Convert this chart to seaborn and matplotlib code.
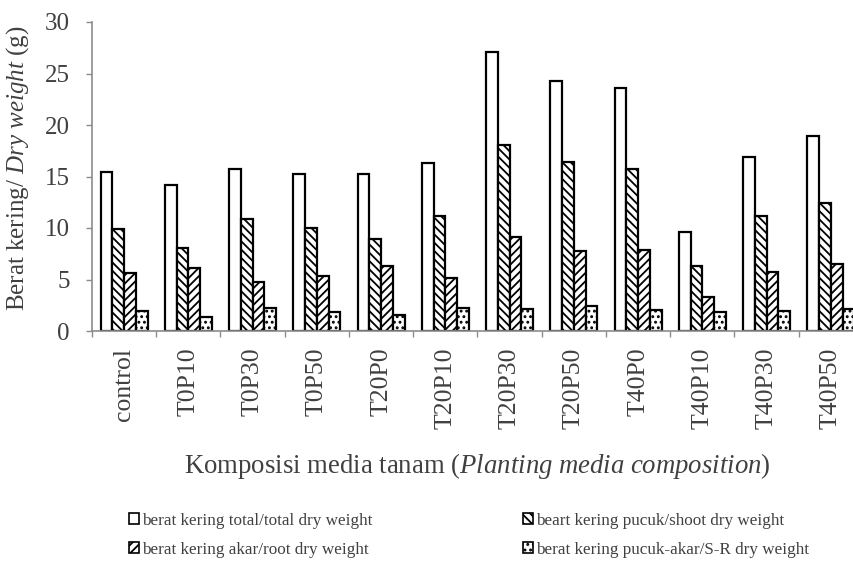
import matplotlib
matplotlib.use("Agg")
import matplotlib.pyplot as plt
import matplotlib.patches as mpatches
import seaborn as sns
import pandas as pd

categories = ["control", "T0P10", "T0P30", "T0P50", "T20P0", "T20P10",
              "T20P30", "T20P50", "T40P0", "T40P10", "T40P30", "T40P50"]
total_dw = [15.4, 14.2, 15.7, 15.2, 15.2, 16.3, 27.1, 24.3, 23.6, 9.6, 16.9, 18.9]
shoot_dw = [9.9, 8.1, 10.9, 10.0, 8.9, 11.2, 18.1, 16.4, 15.7, 6.3, 11.2, 12.4]
root_dw = [5.6, 6.1, 4.8, 5.3, 6.3, 5.1, 9.1, 7.8, 7.9, 3.3, 5.7, 6.5]
sr_dw = [1.9, 1.4, 2.2, 1.8, 1.6, 2.2, 2.1, 2.4, 2.0, 1.8, 1.9, 2.1]
series_names = ["berat kering total/total dry weight",
                "beart kering pucuk/shoot dry weight",
                "berat kering akar/root dry weight",
                "berat kering pucuk-akar/S-R dry weight"]
yticks = [0, 5, 10, 15, 20, 25, 30]

sns.set_style("white")
plt.rcParams["font.family"] = ["Liberation Serif", "DejaVu Serif"]
plt.rcParams["mathtext.fontset"] = "custom"
plt.rcParams["mathtext.rm"] = "Liberation Serif"
plt.rcParams["mathtext.it"] = "Liberation Serif:italic"
plt.rcParams["hatch.linewidth"] = 1.3

rows = []
for name, vals in zip(series_names, [total_dw, shoot_dw, root_dw, sr_dw]):
    for c, v in zip(categories, vals):
        rows.append({"cat": c, "val": v, "series": name})
df = pd.DataFrame(rows)

txt = "#404040"
axc = "#8c8c8c"
fig = plt.figure(figsize=(8.54, 5.86), dpi=100)
ax = fig.add_axes([92 / 854, 1 - 331 / 586, 771 / 854, 309 / 586])

sns.barplot(data=df, x="cat", y="val", hue="series", order=categories,
            hue_order=series_names, palette=["white"] * 4, edgecolor="black",
            linewidth=1.6, width=0.73, gap=0, legend=False, ax=ax, errorbar=None)

hatches = [None, "\\\\\\\\", "////", "..."]
for cont, h in zip(ax.containers, hatches):
    for p in cont:
        p.set_hatch(h)
        p.set_facecolor("white")
        p.set_edgecolor("black")

ax.set_ylim(0, 30)
ax.set_xlim(-0.5, len(categories) - 0.5)
ax.set_yticks(yticks)
ax.set_yticklabels([str(t) for t in yticks], fontsize=18, color=txt)
ax.set_xticks(range(len(categories)))
ax.set_xticklabels(categories, rotation=90, fontsize=18.5, color=txt)
ax.set_xticks([i - 0.5 for i in range(len(categories) + 1)], minor=True)
ax.tick_params(axis="x", which="major", length=0, pad=12)
ax.tick_params(axis="x", which="minor", length=4, width=1, color=axc, direction="out", bottom=True)
ax.tick_params(axis="y", length=4, width=1, color=axc, direction="out", pad=12, left=True)

for s in ["top", "right"]:
    ax.spines[s].set_visible(False)
for s in ["left", "bottom"]:
    ax.spines[s].set_color(axc)
    ax.spines[s].set_linewidth(1.2)

ax.set_xlabel("")
ax.set_ylabel("")
fig.text(477 / 854, 1 - 466 / 586,
         r"Komposisi media tanam ($\mathit{Planting\ media\ composition}$)",
         ha="center", va="center", fontsize=19.3, color=txt)
fig.text(18 / 854, 1 - 168 / 586, r"Berat kering/ $\mathit{Dry\ weight}$ (g)",
         rotation=90, ha="center", va="center", fontsize=18, color=txt)

handles = []
for h in hatches:
    handles.append(mpatches.Patch(facecolor="white", edgecolor="black",
                                  hatch=h, linewidth=1.2))
order = [0, 2, 1, 3]
leg = fig.legend([handles[i] for i in order], [series_names[i] for i in order],
                 ncol=2, loc="upper left", bbox_to_anchor=(122 / 854, 1 - 506 / 586),
                 frameon=False, fontsize=12.3, handlelength=0.6, handleheight=0.6,
                 handletextpad=0.15, columnspacing=8.85, labelspacing=0.75,
                 borderaxespad=0)
for t in leg.get_texts():
    t.set_color(txt)

fig.savefig("out.png", dpi=100)
